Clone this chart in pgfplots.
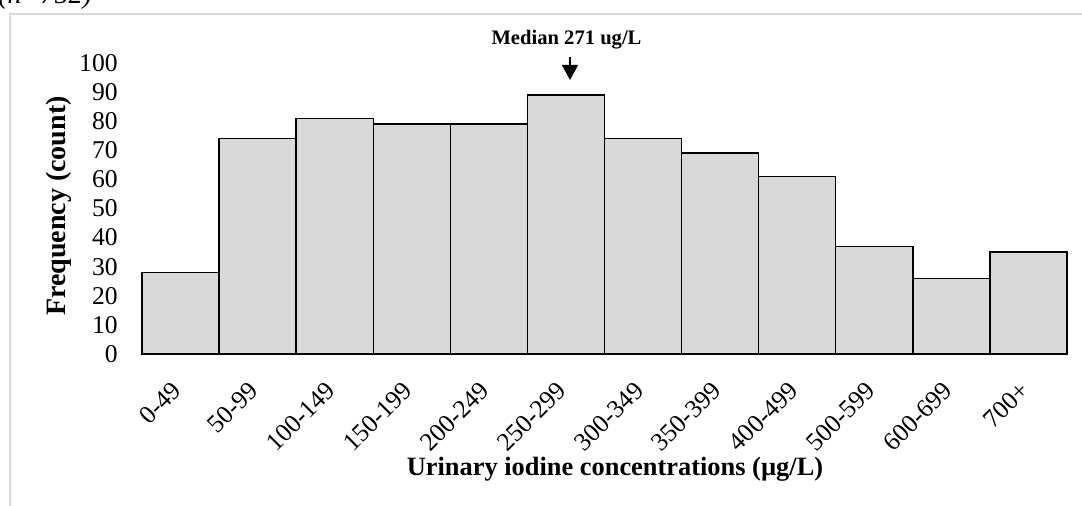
\documentclass[border=0pt]{standalone}
\usepackage{pgfplots}
\pgfplotsset{compat=1.18}
\usetikzlibrary{arrows.meta}
\usepackage{fontspec}
\setmainfont{Liberation Serif}
\definecolor{barfill}{RGB}{217,217,217}
\definecolor{framegray}{RGB}{217,217,217}
\definecolor{axisgray}{RGB}{190,190,190}
\begin{document}
\begin{tikzpicture}
\useasboundingbox (0,0) rectangle (541pt,253pt);
\draw[framegray, line width=0.6pt] (5pt,-20pt) rectangle (600pt,246pt);
\node[anchor=base west, inner sep=0pt, font=\fontsize{14}{16}\selectfont\itshape] at (-1pt,251.2pt) {(n=752)};
\begin{axis}[
  at={(71pt,76pt)}, anchor=south west, scale only axis,
  width=462.5pt, height=145.5pt,
  xmin=-0.5, xmax=11.5, ymin=0, ymax=100,
  axis lines*=left,
  y axis line style={draw=none},
  x axis line style={axisgray, line width=0.8pt},
  major tick length=0pt,
  ytick={0,10,...,100},
  xtick={0,...,11},
  xticklabels={0-49,50-99,100-149,150-199,200-249,250-299,300-349,350-399,400-499,500-599,600-699,700+},
  /pgf/number format/assume math mode=true,
  yticklabel style={anchor=east, inner sep=0pt, xshift=-12pt, font=\fontsize{12.8}{14}\selectfont},
  xticklabel style={xshift=-5pt, yshift=-13pt, rotate=45, anchor=north east, inner sep=0pt, font=\fontsize{12.8}{14}\selectfont},
  clip=false,
]
\addplot[ybar, bar width=1, bar shift=0pt, fill=barfill, draw=black, line width=0.7pt]
  coordinates {(0,28) (1,74) (2,81) (3,79) (4,79) (5,89) (6,74) (7,69) (8,61) (9,37) (10,26) (11,35)};
\end{axis}
\node[anchor=base, inner sep=0pt, font=\fontsize{10.3}{12}\selectfont\bfseries] at (283.25pt,230.5pt) {Median 271 ug/L};
\draw[-{Triangle[width=8pt,length=7.5pt]}, line width=0.7pt] (285pt,224.7pt) -- (285pt,213pt);
\node[anchor=base, inner sep=0pt, font=\fontsize{13.2}{15}\selectfont\bfseries] at (307.5pt,15pt) {Urinary iodine concentrations (µg/L)};
\node[rotate=90, inner sep=0pt, font=\fontsize{14}{16}\selectfont\bfseries] at (29.5pt,150pt) {Frequency (count)};
\end{tikzpicture}
\end{document}
